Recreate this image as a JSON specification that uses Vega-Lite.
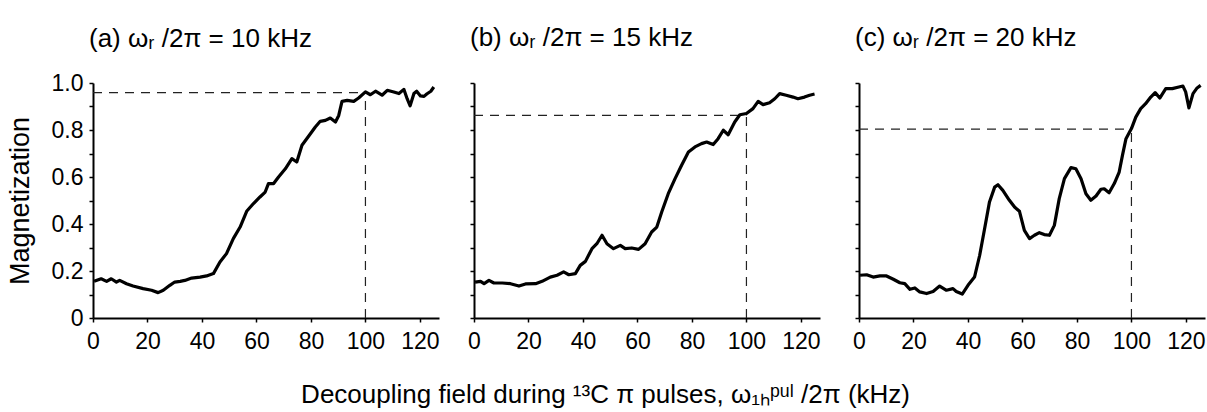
{
  "$schema": "https://vega.github.io/schema/vega-lite/v6.json",
  "background": "white",
  "padding": {"left": 6, "top": 25, "right": 0, "bottom": 0},
  "datasets": {
    "curves": [
      {"panel":"a","khz":0.4,"mag":0.156},{"panel":"a","khz":3,"mag":0.167},{"panel":"a","khz":5,"mag":0.156},{"panel":"a","khz":6.7,"mag":0.167},{"panel":"a","khz":8.6,"mag":0.153},{"panel":"a","khz":9.8,"mag":0.16},{"panel":"a","khz":12.3,"mag":0.146},{"panel":"a","khz":14.7,"mag":0.136},{"panel":"a","khz":18.4,"mag":0.125},{"panel":"a","khz":21.5,"mag":0.118},{"panel":"a","khz":23.9,"mag":0.108},{"panel":"a","khz":25.8,"mag":0.118},{"panel":"a","khz":28.2,"mag":0.139},{"panel":"a","khz":30,"mag":0.153},{"panel":"a","khz":32,"mag":0.156},{"panel":"a","khz":33.7,"mag":0.16},{"panel":"a","khz":36.2,"mag":0.17},{"panel":"a","khz":39.3,"mag":0.174},{"panel":"a","khz":41.7,"mag":0.179},{"panel":"a","khz":44.2,"mag":0.189},{"panel":"a","khz":46.6,"mag":0.238},{"panel":"a","khz":49,"mag":0.274},{"panel":"a","khz":51.5,"mag":0.338},{"panel":"a","khz":54,"mag":0.387},{"panel":"a","khz":56.4,"mag":0.454},{"panel":"a","khz":58.9,"mag":0.487},{"panel":"a","khz":61.3,"mag":0.515},{"panel":"a","khz":63.2,"mag":0.536},{"panel":"a","khz":64.4,"mag":0.572},{"panel":"a","khz":66.3,"mag":0.572},{"panel":"a","khz":68.1,"mag":0.6},{"panel":"a","khz":70.6,"mag":0.635},{"panel":"a","khz":73,"mag":0.678},{"panel":"a","khz":74.8,"mag":0.664},{"panel":"a","khz":76.7,"mag":0.735},{"panel":"a","khz":79.8,"mag":0.784},{"panel":"a","khz":81.6,"mag":0.813},{"panel":"a","khz":83.4,"mag":0.837},{"panel":"a","khz":85.3,"mag":0.841},{"panel":"a","khz":87.1,"mag":0.851},{"panel":"a","khz":89,"mag":0.834},{"panel":"a","khz":90.2,"mag":0.862},{"panel":"a","khz":91.4,"mag":0.922},{"panel":"a","khz":93.3,"mag":0.926},{"panel":"a","khz":95.7,"mag":0.922},{"panel":"a","khz":97.5,"mag":0.936},{"panel":"a","khz":100,"mag":0.962},{"panel":"a","khz":101.8,"mag":0.95},{"panel":"a","khz":103.7,"mag":0.965},{"panel":"a","khz":106.1,"mag":0.948},{"panel":"a","khz":108,"mag":0.969},{"panel":"a","khz":110.4,"mag":0.962},{"panel":"a","khz":112.3,"mag":0.955},{"panel":"a","khz":114.1,"mag":0.973},{"panel":"a","khz":115.3,"mag":0.933},{"panel":"a","khz":116.4,"mag":0.903},{"panel":"a","khz":117.8,"mag":0.955},{"panel":"a","khz":118.8,"mag":0.965},{"panel":"a","khz":120.2,"mag":0.945},{"panel":"a","khz":121.5,"mag":0.943},{"panel":"a","khz":122.5,"mag":0.953},{"panel":"a","khz":124,"mag":0.965},{"panel":"a","khz":125.1,"mag":0.983},
      {"panel":"b","khz":0.4,"mag":0.153},{"panel":"b","khz":2.4,"mag":0.156},{"panel":"b","khz":3.7,"mag":0.146},{"panel":"b","khz":5.5,"mag":0.16},{"panel":"b","khz":7.3,"mag":0.149},{"panel":"b","khz":10.4,"mag":0.149},{"panel":"b","khz":13.4,"mag":0.146},{"panel":"b","khz":16.5,"mag":0.136},{"panel":"b","khz":18.9,"mag":0.145},{"panel":"b","khz":22.6,"mag":0.146},{"panel":"b","khz":25,"mag":0.156},{"panel":"b","khz":28,"mag":0.174},{"panel":"b","khz":30.5,"mag":0.182},{"panel":"b","khz":32.9,"mag":0.196},{"panel":"b","khz":34.8,"mag":0.184},{"panel":"b","khz":37.2,"mag":0.189},{"panel":"b","khz":39,"mag":0.224},{"panel":"b","khz":40.9,"mag":0.241},{"panel":"b","khz":43.3,"mag":0.295},{"panel":"b","khz":45.1,"mag":0.316},{"panel":"b","khz":47,"mag":0.352},{"panel":"b","khz":48.8,"mag":0.316},{"panel":"b","khz":51.2,"mag":0.295},{"panel":"b","khz":53.7,"mag":0.309},{"panel":"b","khz":55.5,"mag":0.295},{"panel":"b","khz":57.9,"mag":0.298},{"panel":"b","khz":60.4,"mag":0.292},{"panel":"b","khz":62.8,"mag":0.316},{"panel":"b","khz":65.2,"mag":0.366},{"panel":"b","khz":67.1,"mag":0.387},{"panel":"b","khz":68.9,"mag":0.451},{"panel":"b","khz":71.3,"mag":0.529},{"panel":"b","khz":73.8,"mag":0.593},{"panel":"b","khz":76.2,"mag":0.65},{"panel":"b","khz":78.7,"mag":0.706},{"panel":"b","khz":81.1,"mag":0.728},{"panel":"b","khz":83.5,"mag":0.742},{"panel":"b","khz":85.4,"mag":0.749},{"panel":"b","khz":87.8,"mag":0.738},{"panel":"b","khz":89.6,"mag":0.763},{"panel":"b","khz":91.5,"mag":0.799},{"panel":"b","khz":93.3,"mag":0.78},{"panel":"b","khz":95.7,"mag":0.834},{"panel":"b","khz":97.6,"mag":0.865},{"panel":"b","khz":100,"mag":0.87},{"panel":"b","khz":102.4,"mag":0.891},{"panel":"b","khz":104.3,"mag":0.922},{"panel":"b","khz":106.1,"mag":0.908},{"panel":"b","khz":108.5,"mag":0.916},{"panel":"b","khz":110.4,"mag":0.933},{"panel":"b","khz":112.2,"mag":0.955},{"panel":"b","khz":114.6,"mag":0.948},{"panel":"b","khz":117.1,"mag":0.94},{"panel":"b","khz":118.9,"mag":0.933},{"panel":"b","khz":121.3,"mag":0.94},{"panel":"b","khz":123.2,"mag":0.948},{"panel":"b","khz":125,"mag":0.953},
      {"panel":"c","khz":0.4,"mag":0.182},{"panel":"c","khz":2.8,"mag":0.184},{"panel":"c","khz":5.2,"mag":0.174},{"panel":"c","khz":7.7,"mag":0.179},{"panel":"c","khz":10.1,"mag":0.179},{"panel":"c","khz":12.6,"mag":0.165},{"panel":"c","khz":15,"mag":0.15},{"panel":"c","khz":16.8,"mag":0.146},{"panel":"c","khz":18.7,"mag":0.122},{"panel":"c","khz":20.5,"mag":0.128},{"panel":"c","khz":22.3,"mag":0.111},{"panel":"c","khz":24.8,"mag":0.104},{"panel":"c","khz":27.2,"mag":0.113},{"panel":"c","khz":29.6,"mag":0.136},{"panel":"c","khz":32.1,"mag":0.118},{"panel":"c","khz":34.5,"mag":0.125},{"panel":"c","khz":35.7,"mag":0.113},{"panel":"c","khz":37.9,"mag":0.102},{"panel":"c","khz":40,"mag":0.139},{"panel":"c","khz":42.4,"mag":0.174},{"panel":"c","khz":44.3,"mag":0.267},{"panel":"c","khz":46.1,"mag":0.38},{"panel":"c","khz":47.9,"mag":0.494},{"panel":"c","khz":49.8,"mag":0.557},{"panel":"c","khz":51,"mag":0.567},{"panel":"c","khz":52.8,"mag":0.543},{"panel":"c","khz":55.2,"mag":0.501},{"panel":"c","khz":57.1,"mag":0.472},{"panel":"c","khz":58.9,"mag":0.454},{"panel":"c","khz":60.7,"mag":0.373},{"panel":"c","khz":62.6,"mag":0.338},{"panel":"c","khz":64.4,"mag":0.352},{"panel":"c","khz":66.2,"mag":0.363},{"panel":"c","khz":68,"mag":0.355},{"panel":"c","khz":69.9,"mag":0.352},{"panel":"c","khz":71.7,"mag":0.394},{"panel":"c","khz":73.5,"mag":0.508},{"panel":"c","khz":75.4,"mag":0.593},{"panel":"c","khz":77.8,"mag":0.64},{"panel":"c","khz":79.6,"mag":0.635},{"panel":"c","khz":81.5,"mag":0.593},{"panel":"c","khz":83.3,"mag":0.529},{"panel":"c","khz":85.1,"mag":0.501},{"panel":"c","khz":87,"mag":0.519},{"panel":"c","khz":88.8,"mag":0.548},{"panel":"c","khz":90,"mag":0.55},{"panel":"c","khz":91.8,"mag":0.533},{"panel":"c","khz":93.7,"mag":0.572},{"panel":"c","khz":95.5,"mag":0.621},{"panel":"c","khz":96.7,"mag":0.692},{"panel":"c","khz":98,"mag":0.763},{"panel":"c","khz":100,"mag":0.806},{"panel":"c","khz":101.6,"mag":0.855},{"panel":"c","khz":103.4,"mag":0.891},{"panel":"c","khz":105.2,"mag":0.912},{"panel":"c","khz":107.1,"mag":0.94},{"panel":"c","khz":108.7,"mag":0.959},{"panel":"c","khz":110.4,"mag":0.936},{"panel":"c","khz":112.6,"mag":0.976},{"panel":"c","khz":115,"mag":0.976},{"panel":"c","khz":117.4,"mag":0.983},{"panel":"c","khz":118.9,"mag":0.987},{"panel":"c","khz":119.9,"mag":0.962},{"panel":"c","khz":121.1,"mag":0.894},{"panel":"c","khz":122.6,"mag":0.955},{"panel":"c","khz":124.1,"mag":0.979},{"panel":"c","khz":125.4,"mag":0.99}
    ],
    "refs": [
      {"panel":"a","khz":0,"khz_end":100,"mag":0.959,"mag_end":0.959},
      {"panel":"a","khz":100,"khz_end":100,"mag":0,"mag_end":0.959},
      {"panel":"b","khz":0,"khz_end":100,"mag":0.862,"mag_end":0.862},
      {"panel":"b","khz":100,"khz_end":100,"mag":0,"mag_end":0.862},
      {"panel":"c","khz":0,"khz_end":100,"mag":0.804,"mag_end":0.804},
      {"panel":"c","khz":100,"khz_end":100,"mag":0,"mag_end":0.804}
    ]
  },
  "config": {
    "font": "Liberation Sans",
    "view": {"stroke": null},
    "axis": {
      "grid": false,
      "domainColor": "black",
      "domainWidth": 2,
      "tickColor": "black",
      "tickWidth": 1.5,
      "tickSize": 4,
      "labelFont": "Liberation Sans",
      "labelFontSize": 23,
      "labelColor": "black",
      "labelFlush": false,
      "labelOverlap": false,
      "titleFont": "Liberation Sans",
      "titleFontSize": 27,
      "titleFontWeight": "normal",
      "titleColor": "black"
    },
    "title": {"font": "Liberation Sans", "fontSize": 26, "fontWeight": "normal", "color": "black"},
    "concat": {"spacing": 27}
  },
  "title": {
    "text": "Decoupling field during ¹³C π pulses, ω₁ₕᵖᵘˡ /2π  (kHz)",
    "orient": "bottom",
    "anchor": "middle",
    "fontSize": 26,
    "offset": 29
  },
  "hconcat": [
    {
      "width": 346, "height": 235,
      "title": {"text": "(a) ωᵣ /2π = 10 kHz", "anchor": "start", "frame": "group", "dx": -4, "offset": 20},
      "encoding": {
        "x": {"field": "khz", "type": "quantitative", "scale": {"domain": [0, 127], "nice": false},
              "axis": {"title": null, "values": [0, 20, 40, 60, 80, 100, 120], "labelPadding": 8}},
        "y": {"field": "mag", "type": "quantitative", "scale": {"domain": [0, 1], "nice": false},
              "axis": {"title": "Magnetization", "titlePadding": 17, "values": [0, 0.1, 0.2, 0.3, 0.4, 0.5, 0.6, 0.7, 0.8, 0.9, 1.0],
                       "labelExpr": "datum.value == 0 ? '0' : (round(datum.value * 10) % 2 == 0 ? format(datum.value, '.1f') : '')", "labelPadding": 6}}
      },
      "layer": [
        {"data": {"name": "refs"}, "transform": [{"filter": "datum.panel == 'a'"}],
         "mark": {"type": "rule", "strokeDash": [9, 7], "strokeWidth": 1.2, "color": "#222"},
         "encoding": {"x2": {"field": "khz_end"}, "y2": {"field": "mag_end"}}},
        {"data": {"name": "curves"}, "transform": [{"filter": "datum.panel == 'a'"}],
         "mark": {"type": "line", "color": "black", "strokeWidth": 3.2, "strokeJoin": "round"}}
      ]
    },
    {
      "width": 346, "height": 235,
      "title": {"text": "(b) ωᵣ /2π = 15 kHz", "anchor": "start", "frame": "group", "dx": -4, "offset": 31},
      "encoding": {
        "x": {"field": "khz", "type": "quantitative", "scale": {"domain": [0, 127], "nice": false},
              "axis": {"title": null, "values": [0, 20, 40, 60, 80, 100, 120], "labelPadding": 8}},
        "y": {"field": "mag", "type": "quantitative", "scale": {"domain": [0, 1], "nice": false},
              "axis": {"title": null, "labels": false, "values": [0, 0.1, 0.2, 0.3, 0.4, 0.5, 0.6, 0.7, 0.8, 0.9, 1.0]}}
      },
      "layer": [
        {"data": {"name": "refs"}, "transform": [{"filter": "datum.panel == 'b'"}],
         "mark": {"type": "rule", "strokeDash": [9, 7], "strokeWidth": 1.2, "color": "#222"},
         "encoding": {"x2": {"field": "khz_end"}, "y2": {"field": "mag_end"}}},
        {"data": {"name": "curves"}, "transform": [{"filter": "datum.panel == 'b'"}],
         "mark": {"type": "line", "color": "black", "strokeWidth": 3.2, "strokeJoin": "round"}}
      ]
    },
    {
      "width": 346, "height": 235,
      "title": {"text": "(c) ωᵣ /2π = 20 kHz", "anchor": "start", "frame": "group", "dx": -4, "offset": 31},
      "encoding": {
        "x": {"field": "khz", "type": "quantitative", "scale": {"domain": [0, 127], "nice": false},
              "axis": {"title": null, "values": [0, 20, 40, 60, 80, 100, 120], "labelPadding": 8}},
        "y": {"field": "mag", "type": "quantitative", "scale": {"domain": [0, 1], "nice": false},
              "axis": {"title": null, "labels": false, "minExtent": 11, "values": [0, 0.1, 0.2, 0.3, 0.4, 0.5, 0.6, 0.7, 0.8, 0.9, 1.0]}}
      },
      "layer": [
        {"data": {"name": "refs"}, "transform": [{"filter": "datum.panel == 'c'"}],
         "mark": {"type": "rule", "strokeDash": [9, 7], "strokeWidth": 1.2, "color": "#222"},
         "encoding": {"x2": {"field": "khz_end"}, "y2": {"field": "mag_end"}}},
        {"data": {"name": "curves"}, "transform": [{"filter": "datum.panel == 'c'"}],
         "mark": {"type": "line", "color": "black", "strokeWidth": 3.2, "strokeJoin": "round"}}
      ]
    }
  ]
}
